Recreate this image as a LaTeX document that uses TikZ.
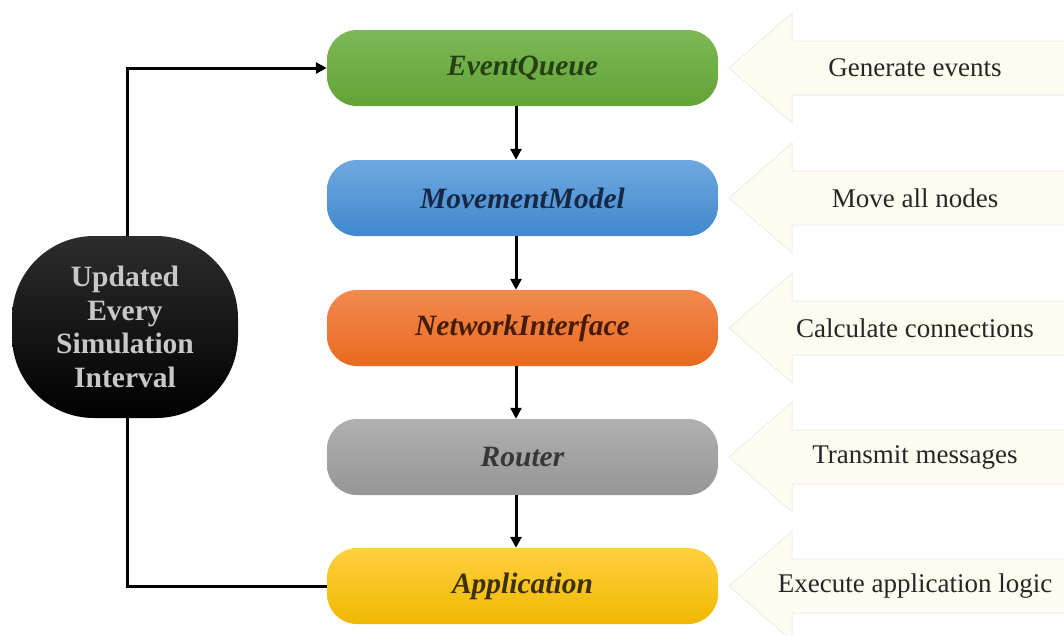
\documentclass[tikz,border=0pt]{standalone}
\usepackage{fontspec}
\setmainfont{Liberation Serif}
\usetikzlibrary{arrows.meta}
\definecolor{arrowfill}{HTML}{FEFCF0}
\definecolor{arrowline}{HTML}{EDEDED}
\tikzset{
  pill/.style={rounded corners=30pt, minimum width=391pt, minimum height=76pt,
    inner sep=0pt, font=\fontsize{29.5}{34}\selectfont\bfseries\itshape},
  conn/.style={line width=3pt, draw=black},
  tip/.style={-{Triangle[length=11pt,width=11pt]}},
  sidearrow/.style={fill=arrowfill, draw=arrowline, line width=1pt},
  sidetext/.style={font=\fontsize{27}{31}\selectfont, text=black!85},
}
\begin{document}
\begin{tikzpicture}[x=1pt,y=-1pt]
\useasboundingbox (0,0) rectangle (1064,635);
% side arrows
\foreach \c/\t/\n in {68/Generate events/a1, 198/Move all nodes/a2, 328/Calculate connections/a3, 457/Transmit messages/a4, 586/Execute application logic/a5}{
  \fill[arrowfill] (1064,\c-27) -- (792,\c-27) -- (792,\c-55) -- (729,\c) -- (792,\c+55) -- (792,\c+27) -- (1064,\c+27) -- cycle;
  \draw[arrowline, line width=1pt] (1064,\c-27) -- (792,\c-27) -- (792,\c-55) -- (729,\c) -- (792,\c+55) -- (792,\c+27) -- (1064,\c+27);
  \node[sidetext] (\n) at (915,\c) {\t};
}
% pills
\node[pill, top color={rgb,255:red,125;green,184;blue,85}, bottom color={rgb,255:red,98;green,163;blue,55}, text={rgb,255:red,38;green,64;blue,22}] (eq) at (522.5,68) {EventQueue};
\node[pill, top color={rgb,255:red,111;green,168;blue,224}, bottom color={rgb,255:red,64;green,136;blue,206}, text={rgb,255:red,22;green,40;blue,70}] (mm) at (522.5,198) {MovementModel};
\node[pill, top color={rgb,255:red,243;green,137;blue,80}, bottom color={rgb,255:red,232;green,106;blue,30}, text={rgb,255:red,70;green,28;blue,8}] (ni) at (522.5,328) {NetworkInterface};
\node[pill, top color={rgb,255:red,176;green,176;blue,176}, bottom color={rgb,255:red,150;green,150;blue,150}, text={rgb,255:red,55;green,55;blue,55}] (rt) at (522.5,457) {Router};
\node[pill, top color={rgb,255:red,255;green,208;blue,64}, bottom color={rgb,255:red,240;green,184;blue,0}, text={rgb,255:red,60;green,48;blue,10}] (ap) at (522.5,586) {Application};
% black node
\node[rounded corners=82pt, minimum width=226pt, minimum height=182pt, inner sep=0pt,
  top color={rgb,255:red,45;green,45;blue,45}, bottom color=black,
  text={rgb,255:red,200;green,200;blue,200}, align=center,
  font=\fontsize{29.5}{33.6}\selectfont\bfseries] (up) at (125,327) {Updated\\Every\\Simulation\\Interval};
% connectors
\draw[conn, tip] ([xshift=-6.5pt]eq.south) -- ([xshift=-6.5pt]mm.north);
\draw[conn, tip] ([xshift=-6.5pt]mm.south) -- ([xshift=-6.5pt]ni.north);
\draw[conn, tip] ([xshift=-6.5pt]ni.south) -- ([xshift=-6.5pt]rt.north);
\draw[conn, tip] ([xshift=-6.5pt]rt.south) -- ([xshift=-6.5pt]ap.north);
\draw[conn, tip] ([xshift=2pt]up.north) |- (eq.west);
\draw[conn] ([xshift=2pt]up.south) |- (ap.west);
\end{tikzpicture}
\end{document}
